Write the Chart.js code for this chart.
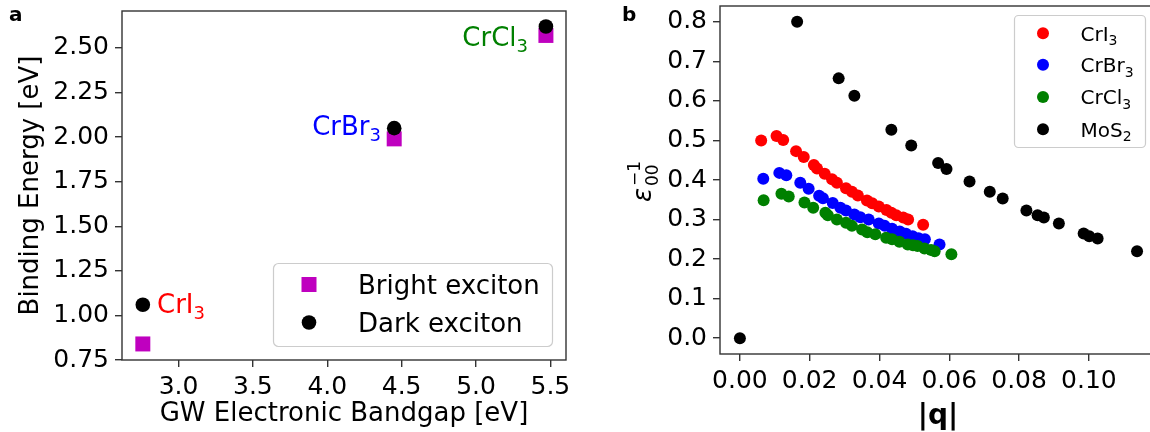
<!DOCTYPE html>
<html><head><meta charset="utf-8">
<script src="https://cdn.jsdelivr.net/npm/chart.js@4.4.0/dist/chart.umd.min.js"></script>
<style>
html,body{margin:0;padding:0;background:#fff;overflow:hidden;}
#wrap{position:relative;width:1150px;height:432px;overflow:hidden;background:#fff;}
#c1{position:absolute;left:0;top:0;}
#c2{position:absolute;left:580px;top:0;}
</style></head><body>
<div id="wrap">
<canvas id="c1" width="580" height="432"></canvas>
<canvas id="c2" width="600" height="432"></canvas>
</div>
<script>
// ---------- Panel a data ----------
const materials = ['CrI3', 'CrBr3', 'CrCl3'];
const gwBandgap = [2.76, 4.45, 5.47];
const brightBinding = [0.84, 1.99, 2.57];
const darkBinding = [1.06, 2.05, 2.62];
const aXTicks = [3.0, 3.5, 4.0, 4.5, 5.0, 5.5];
const aYTicks = [0.75, 1.00, 1.25, 1.50, 1.75, 2.00, 2.25, 2.50];

// ---------- Panel b data ----------
const qCrI3 = [0.0061, 0.0105, 0.0124, 0.0161, 0.0183, 0.0212, 0.0221, 0.0243, 0.0264, 0.0278, 0.0304, 0.0321, 0.0338, 0.0364, 0.0379, 0.0398, 0.0420, 0.0434, 0.0448, 0.0468, 0.0482, 0.0525];
const epsCrI3 = [0.500, 0.511, 0.501, 0.473, 0.458, 0.438, 0.429, 0.416, 0.402, 0.393, 0.379, 0.370, 0.361, 0.348, 0.341, 0.333, 0.324, 0.317, 0.311, 0.305, 0.300, 0.287];
const qCrBr3 = [0.0067, 0.0113, 0.0133, 0.0173, 0.0197, 0.0227, 0.0238, 0.0266, 0.0288, 0.0304, 0.0328, 0.0345, 0.0369, 0.0398, 0.0415, 0.0436, 0.0458, 0.0476, 0.0495, 0.0512, 0.0530, 0.0572];
const epsCrBr3 = [0.403, 0.418, 0.412, 0.393, 0.378, 0.360, 0.354, 0.342, 0.330, 0.323, 0.313, 0.306, 0.300, 0.290, 0.284, 0.277, 0.270, 0.264, 0.258, 0.253, 0.250, 0.237];
const qCrCl3 = [0.0068, 0.0119, 0.0140, 0.0185, 0.0210, 0.0245, 0.0252, 0.0278, 0.0304, 0.0321, 0.0350, 0.0365, 0.0388, 0.0419, 0.0436, 0.0457, 0.0481, 0.0496, 0.0509, 0.0529, 0.0548, 0.0558, 0.0606];
const epsCrCl3 = [0.349, 0.365, 0.358, 0.343, 0.330, 0.317, 0.311, 0.300, 0.292, 0.284, 0.275, 0.268, 0.263, 0.254, 0.250, 0.244, 0.237, 0.235, 0.233, 0.227, 0.223, 0.220, 0.212];
const qMoS2 = [0, 0.0164, 0.0283, 0.0328, 0.0434, 0.0491, 0.0568, 0.0592, 0.0658, 0.0716, 0.0753, 0.0821, 0.0853, 0.0871, 0.0914, 0.0985, 0.1001, 0.1025, 0.1138];
const epsMoS2 = [0, 0.800, 0.657, 0.613, 0.527, 0.487, 0.443, 0.428, 0.396, 0.370, 0.353, 0.323, 0.311, 0.305, 0.290, 0.265, 0.258, 0.252, 0.220];
const bXTicks = [0.00, 0.02, 0.04, 0.06, 0.08, 0.10];
const bYTicks = [0.0, 0.1, 0.2, 0.3, 0.4, 0.5, 0.6, 0.7, 0.8];

const FONT = 'DejaVu Sans';
const pts = (xs, ys) => xs.map((x, i) => ({x: x, y: ys[i]}));
function noPad(s) { s.paddingTop = 0; s.paddingBottom = 0; s.paddingLeft = 0; s.paddingRight = 0; }

// draw text with subscripts / superscripts
function rich(ctx, parts, x, y, size, color, align) {
  const sub = Math.round(size * 0.7);
  let w = 0;
  const ws = parts.map(p => {
    ctx.font = (p[1] === 'n' ? size : sub) + 'px "' + FONT + '"';
    const m = ctx.measureText(p[0]).width; w += m; return m;
  });
  let cx = align === 'right' ? x - w : (align === 'center' ? x - w / 2 : x);
  ctx.fillStyle = color; ctx.textAlign = 'left'; ctx.textBaseline = 'alphabetic';
  parts.forEach((p, i) => {
    const sz = p[1] === 'n' ? size : sub;
    ctx.font = sz + 'px "' + FONT + '"';
    const dy = p[1] === 'sub' ? size * 0.22 : (p[1] === 'sup' ? -size * 0.4 : 0);
    ctx.fillText(p[0], cx, y + dy);
    cx += ws[i];
  });
}
function rrect(ctx, x, y, w, h, r) {
  ctx.beginPath();
  ctx.moveTo(x + r, y); ctx.lineTo(x + w - r, y); ctx.arcTo(x + w, y, x + w, y + r, r);
  ctx.lineTo(x + w, y + h - r); ctx.arcTo(x + w, y + h, x + w - r, y + h, r);
  ctx.lineTo(x + r, y + h); ctx.arcTo(x, y + h, x, y + h - r, r);
  ctx.lineTo(x, y + r); ctx.arcTo(x, y, x + r, y, r); ctx.closePath();
}
function frame(ctx, a) {
  ctx.save(); ctx.strokeStyle = '#333'; ctx.lineWidth = 1.4;
  ctx.strokeRect(a.left, a.top, a.right - a.left, a.bottom - a.top); ctx.restore();
}
function axisOpts(min, max, ticks, dec, fit, pad) {
  return {
    type: 'linear', min: min, max: max,
    afterBuildTicks: s => { s.ticks = ticks.map(v => ({value: v})); },
    afterFit: fit,
    ticks: {font: {family: FONT, size: 25}, color: '#000', padding: pad, autoSkip: false, maxRotation: 0,
            callback: v => Number(v).toFixed(dec)},
    grid: {drawOnChartArea: false, drawTicks: true, tickLength: 7, color: '#333', lineWidth: 1.4},
    border: {display: false}
  };
}

// ---------- Panel a ----------
const panelA = {
  id: 'panelA',
  afterDraw(chart) {
    const ctx = chart.ctx, a = chart.chartArea;
    ctx.save();
    frame(ctx, a);
    // axis titles
    ctx.fillStyle = '#000'; ctx.font = '26px "' + FONT + '"';
    ctx.textAlign = 'center'; ctx.textBaseline = 'alphabetic';
    ctx.fillText('GW Electronic Bandgap [eV]', (a.left + a.right) / 2, 421);
    ctx.save(); ctx.translate(38, (a.top + a.bottom) / 2); ctx.rotate(-Math.PI / 2);
    ctx.fillText('Binding Energy [eV]', 0, 0); ctx.restore();
    // annotations
    const xs = chart.scales.x, ys = chart.scales.y;
    rich(ctx, [['CrI', 'n'], ['3', 'sub']], 157, 313, 26, '#ff0000', 'left');
    rich(ctx, [['CrBr', 'n'], ['3', 'sub']], 381, 135, 26, '#0000ff', 'right');
    rich(ctx, [['CrCl', 'n'], ['3', 'sub']], 528, 46, 26, '#008000', 'right');
    // legend
    rrect(ctx, 273.5, 263.5, 279, 83, 5);
    ctx.fillStyle = 'rgba(255,255,255,0.8)'; ctx.fill();
    ctx.strokeStyle = '#cccccc'; ctx.lineWidth = 1.2; ctx.stroke();
    ctx.fillStyle = '#bf00bf'; ctx.fillRect(309 - 7.5, 284.5 - 7.5, 15, 15);
    ctx.fillStyle = '#000'; ctx.beginPath(); ctx.arc(309, 322.5, 7.3, 0, Math.PI * 2); ctx.fill();
    ctx.font = '26px "' + FONT + '"'; ctx.textAlign = 'left'; ctx.textBaseline = 'alphabetic';
    ctx.fillText('Bright exciton', 358, 294);
    ctx.fillText('Dark exciton', 358, 332);
    // panel letter
    ctx.font = 'bold 20px "' + FONT + '"';
    ctx.fillText('a', 9, 21);
    ctx.restore();
  }
};

new Chart(document.getElementById('c1'), {
  type: 'scatter',
  data: {datasets: [
    {label: 'Bright exciton', data: pts(gwBandgap, brightBinding), pointStyle: 'rect', pointRadius: 10.6,
     backgroundColor: '#bf00bf', borderWidth: 0, order: 1},
    {label: 'Dark exciton', data: pts(gwBandgap, darkBinding), pointStyle: 'circle', pointRadius: 7.3,
     backgroundColor: '#000000', borderWidth: 0, order: 0}
  ]},
  options: {
    responsive: false, animation: false, devicePixelRatio: 1, events: [],
    layout: {padding: {left: 0, top: 11, right: 14, bottom: 0}},
    plugins: {legend: {display: false}, tooltip: {enabled: false}},
    scales: {
      x: axisOpts(2.62, 5.605, aXTicks, 1, s => { s.height = 72; noPad(s); }, 5),
      y: axisOpts(0.75, 2.707, aYTicks, 2, s => { s.width = 122; noPad(s); }, 6)
    }
  },
  plugins: [panelA]
});

// ---------- Panel b ----------
const panelB = {
  id: 'panelB',
  afterDraw(chart) {
    const ctx = chart.ctx, a = chart.chartArea;
    ctx.save();
    frame(ctx, a);
    // x title
    ctx.fillStyle = '#000'; ctx.font = 'bold 28px "' + FONT + '"';
    ctx.textAlign = 'center'; ctx.textBaseline = 'alphabetic';
    ctx.fillText('|q|', 938 - 580, 424);
    // y title: epsilon_00^-1
    ctx.save(); ctx.translate(651 - 580, 202); ctx.rotate(-Math.PI / 2);
    ctx.textAlign = 'left';
    ctx.font = 'italic 26px "' + FONT + '"';
    ctx.fillText('\u03b5', 0, 0);
    const ew = ctx.measureText('\u03b5').width + 2;
    ctx.font = '17px "' + FONT + '"';
    ctx.fillText('00', ew, 7);
    ctx.fillText('\u22121', ew, -11);
    ctx.restore();
    // legend
    rrect(ctx, 1014.5 - 580, 15.5, 131, 132, 4);
    ctx.fillStyle = 'rgba(255,255,255,0.8)'; ctx.fill();
    ctx.strokeStyle = '#cccccc'; ctx.lineWidth = 1.2; ctx.stroke();
    const items = [
      {c: '#ff0000', t: [['CrI', 'n'], ['3', 'sub']]},
      {c: '#0000ff', t: [['CrBr', 'n'], ['3', 'sub']]},
      {c: '#008000', t: [['CrCl', 'n'], ['3', 'sub']]},
      {c: '#000000', t: [['MoS', 'n'], ['2', 'sub']]}
    ];
    const rows = [33.3, 64.8, 97, 129.3];
    items.forEach((it, i) => {
      ctx.fillStyle = it.c; ctx.beginPath(); ctx.arc(1043 - 580, rows[i], 6, 0, Math.PI * 2); ctx.fill();
      rich(ctx, it.t, 1080.5 - 580, rows[i] + 7.3, 20, '#000', 'left');
    });
    // panel letter
    ctx.fillStyle = '#000'; ctx.font = 'bold 20px "' + FONT + '"'; ctx.textAlign = 'left';
    ctx.fillText('b', 622 - 580, 21);
    ctx.restore();
  }
};

new Chart(document.getElementById('c2'), {
  type: 'scatter',
  data: {datasets: [
    {label: 'CrI3', data: pts(qCrI3, epsCrI3), pointRadius: 6, backgroundColor: '#ff0000', borderWidth: 0, order: 3},
    {label: 'CrBr3', data: pts(qCrBr3, epsCrBr3), pointRadius: 6, backgroundColor: '#0000ff', borderWidth: 0, order: 2},
    {label: 'CrCl3', data: pts(qCrCl3, epsCrCl3), pointRadius: 6, backgroundColor: '#008000', borderWidth: 0, order: 1},
    {label: 'MoS2', data: pts(qMoS2, epsMoS2), pointRadius: 6, backgroundColor: '#000000', borderWidth: 0, order: 0}
  ]},
  options: {
    responsive: false, animation: false, devicePixelRatio: 1, events: [],
    layout: {padding: {left: 0, top: 5, right: 23.4, bottom: 0}},
    plugins: {legend: {display: false}, tooltip: {enabled: false}},
    scales: {
      x: axisOpts(-0.0057, 0.1194, bXTicks, 2, s => { s.height = 78; noPad(s); }, 5),
      y: axisOpts(-0.04, 0.84, bYTicks, 1, s => { s.width = 140; noPad(s); }, 6)
    }
  },
  plugins: [panelB]
});
</script>
</body></html>
